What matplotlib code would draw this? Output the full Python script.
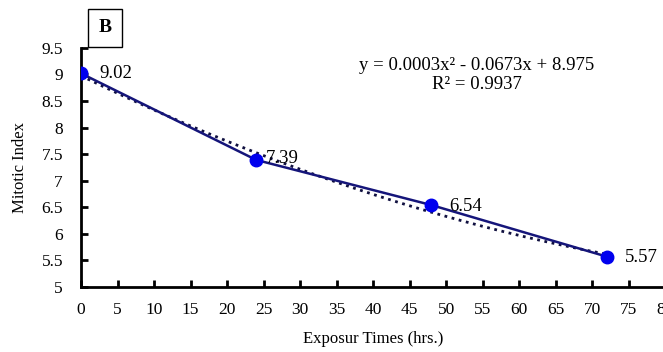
import numpy as np
import matplotlib.pyplot as plt

plt.rcParams['font.family'] = ['Liberation Serif', 'DejaVu Serif']

hours = [0, 24, 48, 72]
mitotic = [9.02, 7.39, 6.54, 5.57]
labels = ['9.02', '7.39', '6.54', '5.57']
xticks = list(range(0, 85, 5))
yticks = [5, 5.5, 6, 6.5, 7, 7.5, 8, 8.5, 9, 9.5]

fig = plt.figure(figsize=(6.63, 3.52), dpi=100)
ax = fig.add_axes([0.1222, 0.185, 0.881, 0.679])

# polynomial trendline (order 2)
coef = np.polyfit(hours, mitotic, 2)
xs = np.linspace(0, 72, 200)
ax.plot(xs, np.polyval(coef, xs), ':', color='#101040', lw=2, zorder=2)

ax.plot(hours, mitotic, '-', color='#15157a', lw=1.8, zorder=3)
ax.plot(hours, mitotic, 'o', color='#0000ee', ms=9, zorder=4)

# label offsets (points) - the 7.39 label sits closer to its marker
offs = [(13, 0), (7, 1), (13, -1), (13, -1)]
for x, y, t, o in zip(hours, mitotic, labels, offs):
    ax.annotate(t, (x, y), xytext=o, textcoords='offset points',
                fontsize=13.5, va='center', ha='left')

fig.text(477 / 663, 1 - 75 / 352, 'y = 0.0003x² - 0.0673x + 8.975\nR² = 0.9937',
         ha='center', va='center', fontsize=13.5, linespacing=1.15)

ax.set_xlim(0, 80)
ax.set_ylim(5, 9.5)
ax.set_xticks(xticks)
ax.set_yticks(yticks)
ax.set_yticklabels(['5', '5.5', '6', '6.5', '7', '7.5', '8', '8.5', '9', '9.5'])
ax.tick_params(direction='in', width=2, length=5, labelsize=12.5)
ax.tick_params(axis='x', pad=11)
ax.tick_params(axis='y', pad=13)
ax.spines['top'].set_visible(False)
ax.spines['right'].set_visible(False)
ax.spines['left'].set_linewidth(2)
ax.spines['bottom'].set_linewidth(2)
ax.set_xlabel('Exposur Times (hrs.)', fontsize=12, labelpad=9)
ax.set_ylabel('Mitotic Index', fontsize=12, labelpad=10)

fig.text(105 / 663, 1 - 28 / 352, 'B', fontsize=14, fontweight='bold', ha='center', va='center',
         bbox=dict(boxstyle='square,pad=0.55', fc='white', ec='black', lw=1))

fig.savefig('out.png', dpi=100)
